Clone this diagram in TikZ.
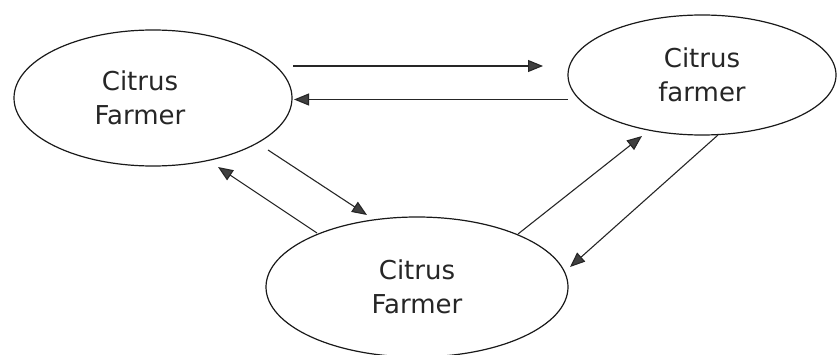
\documentclass[tikz,border=0pt]{standalone}
\usepackage{fontspec}
\setmainfont{DejaVu Sans}
\usetikzlibrary{arrows.meta,shapes.geometric}

\tikzset{
  farmertext/.style={align=center, text=black!85, inner sep=0pt,
                     font=\fontsize{26pt}{34pt}\selectfont},
  farmer/.style={ellipse, draw=black!90, line width=1.2pt, inner sep=0pt,
                 farmertext},
  flow/.style={line width=1.1pt, draw=black!85,
               -{Triangle[length=15pt,width=12pt,fill=black!75]}}
}

\begin{document}
\begin{tikzpicture}[x=1pt, y=1pt]
\useasboundingbox (0,0) rectangle (837,354);

%% 三个椭圆
\node[farmer, minimum width=278pt, minimum height=136pt,
      label={[farmertext, xshift=-13pt]center:{Citrus\\Farmer}}] (farmerA) at (153,256) {};
\node[farmer, minimum width=268pt, minimum height=120pt] (farmerB) at (702,279) {Citrus\\farmer};
\node[farmer, minimum width=302pt, minimum height=140pt] (farmerC) at (417,67) {Citrus\\Farmer};

%% 上面两条
\draw[flow] ([shift={(140pt,32pt)}]farmerA.center) -- ([shift={(-159pt,9pt)}]farmerB.center);
\draw[flow] ([shift={(-134pt,-24.5pt)}]farmerB.center) -- ([shift={(141pt,-1.5pt)}]farmerA.center);

%% 左下
\draw[flow] ([shift={(115pt,-52pt)}]farmerA.center) -- ([shift={(-50pt,72pt)}]farmerC.center);
\draw[flow] ([shift={(-100pt,54pt)}]farmerC.center) -- ([shift={(65pt,-69pt)}]farmerA.center);

%% 右下
\draw[flow] ([shift={(101pt,53pt)}]farmerC.center) -- ([shift={(-60pt,-61pt)}]farmerB.center);
\draw[flow] ([shift={(16pt,-60pt)}]farmerB.center) -- ([shift={(153pt,20pt)}]farmerC.center);
\end{tikzpicture}
\end{document}
